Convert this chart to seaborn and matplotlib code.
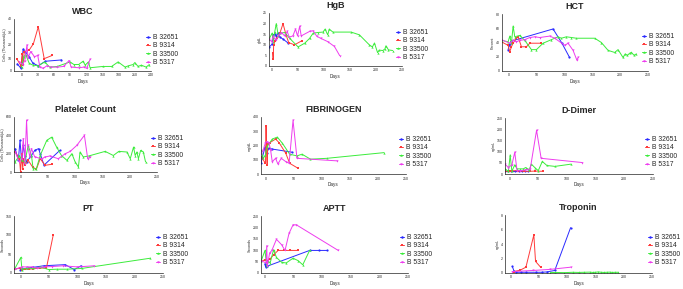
import pandas as pd
import seaborn as sns
import matplotlib.pyplot as plt
from matplotlib.lines import Line2D

# patients / series
patients = ["B 32651", "B 9314", "B 33500", "B 5317"]

# ---- WBC (Cells, Thousand/uL) ----
wbc_32651 = ([-8, -1, 3, 6, 14, 21, 31, 44, 74],
             [5.5, 2, 17, 15, 11, 6, 4, 7.5, 8.5])
wbc_9314 = ([-9, -1, 1, 3, 5, 14, 22, 31, 42, 57],
            [9.5, 4, 13, 5, 15, 16, 21, 34, 9.5, 12])
wbc_33500 = ([0, 4, 8, 14, 21, 31, 43, 52, 66, 90, 97, 106, 114, 118, 124, 127,
              151, 167, 179, 192, 198, 207, 210, 216, 222, 231, 237],
             [3, 11, 12.5, 6, 4.5, 4, 7, 3, 3.5, 7, 5, 5, 7.5, 4.5, 7, 2.5,
              3.5, 3.5, 7, 3, 4, 5, 6.5, 3.5, 4.5, 3, 5])
wbc_5317 = ([-4, 2, 6, 10, 12, 17, 24, 30, 34, 40, 47, 54, 66, 78, 88, 92, 106, 116, 121, 127],
            [7, 5, 8, 20, 10, 15, 11, 12, 3, 2, 4, 3, 3, 3.5, 8, 3, 2.5, 3, 2, 9])

# ---- HgB (g/dL) ----
hgb_32651 = ([-6, 0, 2, 5, 8, 12, 15, 21, 31],
             [8.9, 10.3, 14.7, 15, 14.2, 15.5, 13.6, 12.7, 10.8])
hgb_9314 = ([1, 2, 3, 6, 9, 15, 21, 27, 32, 43, 58],
            [6, 3.5, 10, 12, 13, 15.5, 20, 14.5, 11, 10, 12])
hgb_33500 = ([-6, 0, 2, 5, 8, 12, 16, 24, 34, 50, 63, 72, 79, 88, 98, 102, 107, 110, 117,
              152, 168, 187, 193, 197, 203, 206, 213, 217, 219, 224, 232],
             [12.7, 15.5, 11.5, 16, 20, 14, 15.5, 15.8, 13, 9, 10.8, 13, 15.5, 15.8, 16, 17.4,
              14.7, 17.4, 16, 16, 14.7, 10, 9, 10.8, 6.3, 7.5, 7.3, 8, 9.5, 7.6, 7.3])
hgb_5317 = ([-6, -1, 2, 5, 8, 13, 18, 24, 29, 33, 40, 45, 49, 53, 56, 72, 79, 86, 94, 107, 120, 130],
            [12.7, 11.5, 14, 12.7, 12.3, 14.7, 15.8, 14.2, 16.3, 13.6, 14.2, 17.4, 14.2, 18.7,
             14.2, 16.3, 16.6, 14, 13, 11.5, 9.2, 4.9])

# ---- HCT (Percent) ----
hct_32651 = ([-2, 0, 1, 4, 79, 95, 108],
             [30, 36, 38, 42, 59, 39, 20])
hct_9314 = ([-14, -2, 1, 4, 7, 13, 16, 22, 31, 37, 57],
            [41, 36, 27, 34, 39, 46, 48, 34, 34, 39, 39])
hct_33500 = ([-14, -2, 1, 4, 7, 10, 19, 28, 40, 49, 61, 76, 88, 94, 103, 112, 121,
              154, 166, 178, 190, 196, 205, 209, 213, 217, 220, 225, 229],
             [43, 41, 49, 39, 63, 48, 50, 43, 30, 30, 39, 44, 48, 46, 48, 47, 46,
              46, 40, 29, 26, 30, 19, 24, 22, 25, 26, 22, 24])
hct_5317 = ([-14, 1, 7, 13, 19, 28, 37, 46, 55, 73, 82, 100, 106, 115, 122, 124],
            [44, 39, 43, 41, 43, 44, 47, 48, 47, 49, 46, 36, 39, 29, 15, 19])

# ---- Platelet Count (Cells, Thousand/uL) ----
plt_32651 = ([-10, -4, -1, 2, 5, 8, 11, 20, 26, 33, 36, 43, 72],
             [255, 130, 345, 110, 290, 180, 110, 180, 236, 255, 200, 75, 236])
plt_9314 = ([-10, -2, 0, 2, 4, 5, 8, 14, 22, 29, 36, 45, 57],
            [220, 145, 0, 200, 35, 145, 73, 127, 55, 30, 145, 73, 84])
plt_33500 = ([-10, -2, 2, 8, 14, 20, 23, 29, 36, 48, 57, 66, 75, 85, 94, 100, 106, 109, 115, 125,
              155, 170, 180, 195, 201, 207, 210, 213, 216, 220, 225, 229],
             [110, 180, 127, 110, 290, 180, 36, 36, 180, 345, 380, 272, 180, 127, 200, 110, 55, 218,
              164, 175, 225, 180, 225, 218, 145, 272, 180, 218, 145, 236, 218, 110])
plt_5317 = ([-10, -2, 2, 5, 8, 11, 13, 17, 20, 26, 39, 45, 54, 69, 82, 91, 103, 117, 123, 128],
            [220, 110, 145, 365, 90, 565, 290, 164, 255, 164, 145, 164, 175, 145, 200, 225, 290,
             400, 145, 164])

# ---- FIBRINOGEN (mg/dL) ----
fib_32651 = ([-8, -6, -1, 2, 6, 12, 47],
             [75, 110, 186, 146, 181, 175, 153])
fib_9314 = ([-8, 0, 1, 2, 3, 4, 8, 18, 24, 36, 43, 58],
            [122, 75, 334, 160, 64, 212, 221, 245, 221, 146, 75, 40])
fib_33500 = ([-8, -4, 0, 3, 12, 21, 30, 43, 56, 65, 80, 109, 211],
             [165, 110, 134, 193, 245, 259, 216, 139, 127, 139, 104, 110, 150])
fib_5317 = ([-8, -4, 0, 2, 6, 9, 12, 18, 22, 28, 36, 42, 49, 56, 128],
            [139, 170, 221, 228, 221, 170, 87, 110, 70, 110, 87, 75, 376, 110, 92])

# ---- D-Dimer (ng/mL) ----
dd_32651 = ([-8, -2, 3, 10, 16, 21, 27, 32],
            [15, 15, 15, 15, 15, 15, 15, 15])
dd_9314 = ([-8, 0, 5, 15, 25, 35, 45, 58],
           [12, 12, 15, 14, 12, 12, 13, 12])
dd_33500 = ([-8, -2, 1, 4, 9, 13, 19, 24, 28, 34, 38, 45, 50, 57, 65, 79, 107],
            [23, 12, 85, 12, 41, 23, 23, 23, 29, 19, 44, 26, 15, 56, 38, 34, 44])
dd_5317 = ([-8, -2, 4, 9, 13, 19, 27, 36, 47, 55, 127],
           [44, 29, 41, 97, 15, 15, 18, 23, 195, 70, 51])

# ---- PT (Seconds) ----
pt_32651 = ([-1, 2, 11, 22, 40, 78, 94, 106],
            [9, 10, 13, 15, 19, 22, 9, 19])
pt_9314 = ([-10, -2, 2, 8, 14, 22, 33, 45, 57],
           [10, 13, 9, 10, 10, 11, 13, 13, 100])
pt_33500 = ([-10, 0, 2, 11, 22, 34, 49, 63, 81, 107, 228],
            [13, 41, 9, 13, 12, 16, 9, 10, 10, 12, 39])
pt_5317 = ([-10, 2, 11, 19, 28, 40, 55, 75, 99, 129],
           [10, 16, 16, 16, 13, 16, 17, 19, 16, 19])

# ---- APTT (Seconds) ----
aptt_32651 = ([0, 1, 2, 3, 78, 95, 108],
              [41, 26, 36, 29, 99, 99, 99])
aptt_9314 = ([-7, 0, 4, 9, 15, 23, 33, 44, 58],
             [51, 58, 54, 62, 80, 99, 99, 99, 99])
aptt_33500 = ([-7, 0, 3, 6, 9, 15, 20, 29, 37, 49, 58, 66, 78],
              [51, 99, 29, 51, 44, 102, 68, 47, 44, 65, 54, 36, 99])
aptt_5317 = ([-7, 2, 3, 4, 8, 12, 20, 29, 35, 42, 49, 55, 128],
             [54, 44, 119, 29, 87, 99, 148, 124, 99, 174, 211, 211, 99])

# ---- Troponin (ng/mL) ----
trop_32651 = ([3, 6, 10, 18, 27, 44, 55, 64, 78, 106],
              [0.9, 0.25, 0.1, 0.1, 0.1, 0.1, 0.1, 0.15, 0.35, 6.25])
trop_9314 = ([6, 17, 27, 41, 44, 53],
             [0.2, 0.4, 0.8, 5.25, 1.6, 0.8])
trop_33500 = ([70, 78, 95, 110, 120, 130, 140, 145, 150, 155, 160, 165, 170, 175, 180, 185, 190],
              [0.05, 0.08, 0.05, 0.1, 0.08, 0.1, 0.12, 0.08, 0.1, 0.15, 0.1, 0.08, 0.1, 0.12, 0.08, 0.1, 0.1])
trop_5317 = ([3, 40, 70, 106],
             [0.2, 0.35, 0.5, 0.8])

palette = dict(zip(patients, ["#2a2aff", "#ff3a3a", "#3bec3b", "#ee3cee"]))
marker_map = dict(zip(patients, ["o", "s", "^", "v"]))

W, H = 683, 289
sns.set_style("white")
plt.rcParams["font.family"] = ["Liberation Sans", "DejaVu Sans"]
fig = plt.figure(figsize=(W / 100, H / 100), dpi=100)

# title, ylabel, series, (x0, xmax, xticks), (ymax, yticks), pixel rect (l, r, t, b), legend (x, yc)
panels = [
    ("WBC", "Cells (Thousand/µL)", [wbc_32651, wbc_9314, wbc_33500, wbc_5317],
     (-14, 240, range(0, 241, 30)), (40, range(0, 41, 10)), (14, 151, 19, 71), (146, 50)),
    ("HgB", "g/dL", [hgb_32651, hgb_9314, hgb_33500, hgb_5317],
     (-6, 250, range(0, 251, 50)), (25, range(0, 26, 5)), (269, 402, 13, 66), (396, 45)),
    ("HCT", "Percent", [hct_32651, hct_9314, hct_33500, hct_5317],
     (-13, 250, range(0, 251, 50)), (80, range(0, 81, 20)), (502, 648, 14, 71), (642, 49)),
    ("Platelet Count", "Cells (Thousand/µL)", [plt_32651, plt_9314, plt_33500, plt_5317],
     (-12, 250, range(0, 251, 50)), (600, range(0, 601, 200)), (14, 157, 117, 172), (151, 151)),
    ("FIBRINOGEN", "mg/dL", [fib_32651, fib_9314, fib_33500, fib_5317],
     (-8, 250, range(0, 251, 50)), (400, range(0, 401, 100)), (261, 406, 117, 174), (399, 152)),
    ("D-Dimer", "ng/mL", [dd_32651, dd_9314, dd_33500, dd_5317],
     (-8, 250, range(0, 251, 50)), (250, range(0, 251, 50)), (505, 653, 118, 174), (645, 152)),
    ("PT", "Seconds", [pt_32651, pt_9314, pt_33500, pt_5317],
     (-12, 250, range(0, 251, 50)), (150, range(0, 151, 50)), (14, 163, 216, 273), (156, 250)),
    ("APTT", "Seconds", [aptt_32651, aptt_9314, aptt_33500, aptt_5317],
     (-7, 250, range(0, 251, 50)), (250, range(0, 251, 50)), (261, 408, 216, 273), (400, 250)),
    ("Troponin", "ng/mL", [trop_32651, trop_9314, trop_33500, trop_5317],
     (-10, 250, range(0, 251, 50)), (8, range(0, 9, 2)), (505, 652, 215, 273), (648, 250)),
]

for title, ylab, series, xinfo, yinfo, rect, leg in panels:
    l, r, t, b = rect
    ax = fig.add_axes([l / W, 1 - b / H, (r - l) / W, (b - t) / H])
    frames = []
    for name, (days, vals) in zip(patients, series):
        frames.append(pd.DataFrame({"Days": days, "value": vals, "patient": name}))
    df = pd.concat(frames, ignore_index=True)
    sns.lineplot(data=df, x="Days", y="value", hue="patient", style="patient",
                 palette=palette, markers=marker_map, dashes=False, estimator=None,
                 sort=False, legend=False, ax=ax, linewidth=0.7, markersize=1.6,
                 markeredgewidth=0)
    ax.set_xlim(xinfo[0], xinfo[1])
    ax.set_xticks(list(xinfo[2]))
    ax.set_ylim(0, yinfo[0])
    ax.set_yticks(list(yinfo[1]))
    ax.set_title(title, fontsize=6.5, fontweight="bold", pad=3.5)
    ax.set_xlabel("Days", fontsize=3.3, labelpad=1.2)
    ax.set_ylabel(ylab, fontsize=2.6, labelpad=0.6)
    ax.tick_params(labelsize=2.5, length=1.2, width=0.4, pad=0.6)
    sns.despine(ax=ax)
    for s in ("left", "bottom"):
        ax.spines[s].set_linewidth(0.5)
        ax.spines[s].set_color("#222222")
    handles = [Line2D([0], [0], color=palette[p], marker=marker_map[p], lw=0.7,
                      markersize=1.8, markeredgewidth=0) for p in patients]
    ax.legend(handles, patients, loc="center left", frameon=False,
              bbox_to_anchor=(leg[0] / W, 1 - leg[1] / H), bbox_transform=fig.transFigure,
              fontsize=4.9, handlelength=0.6, handletextpad=0.4, labelspacing=0.2,
              borderpad=0, borderaxespad=0)

fig.savefig("out.png", dpi=100)
